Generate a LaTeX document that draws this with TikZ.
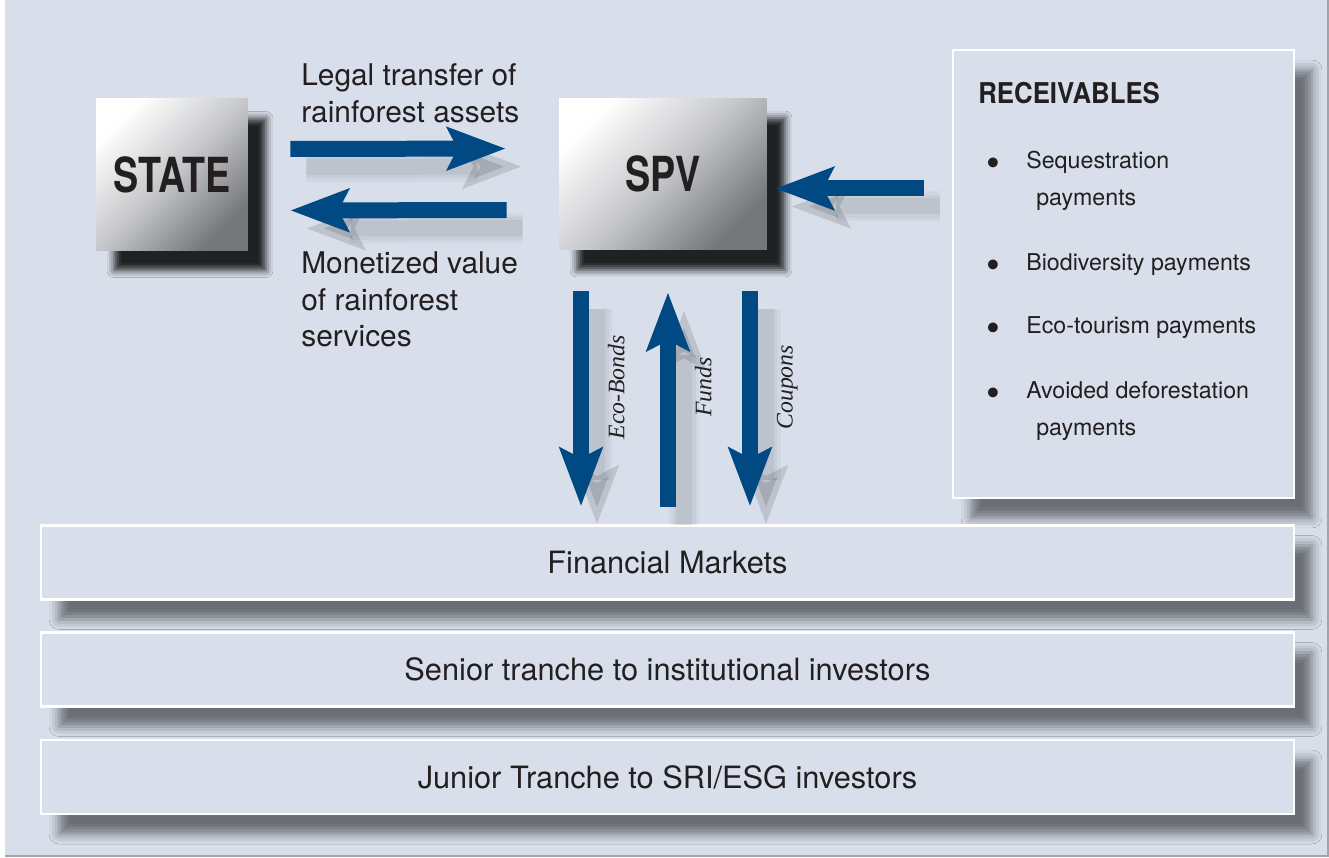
\documentclass[tikz,border=0pt]{standalone}
\usepackage{fontspec}
\setmainfont{TeX Gyre Heros}
\newfontfamily\narrowfont[FakeStretch=0.78]{TeX Gyre Heros}
\newfontfamily\headfont[FakeStretch=0.9]{TeX Gyre Heros}
\newfontfamily\flowfont{Liberation Serif}
\usetikzlibrary{arrows.meta,calc,shadows.blur}

\newcommand\bigdot{\raisebox{-4.5pt}{\scalebox{1.7}{\textbullet}}}

\begin{document}
\begin{tikzpicture}
	[x=0.02cm,y=-0.02cm,
	%Styles
	entity/.style={minimum width=#1,minimum height=3.04cm,inner sep=0pt,
		font=\narrowfont\bfseries\fontsize{27.5}{28}\selectfont,text=ink,
		top color=white,bottom color=boxdark,middle color=boxmid,shading angle=45,
		blur shadow={shadow xshift=0.36cm,shadow yshift=-0.4cm,shadow blur radius=0.14cm,shadow opacity=85}},
	panel/.style={draw=white,line width=0.05cm,fill=panelbg,inner sep=0pt,
		blur shadow={shadow xshift=0.36cm,shadow yshift=-0.4cm,shadow blur radius=0.2cm,shadow opacity=50}},
	tranche/.style={panel,minimum width=25.06cm,minimum height=1.48cm,
		font=\fontsize{17.5}{21}\selectfont,text=ink},
	flow/.style={draw=flowblue,line width=0.32cm,
		-{Stealth[length=1.16cm,width=0.84cm,inset=0.2cm]},
		preaction={draw=black,opacity=0.035,line width=0.6cm,transform canvas={shift={(16,18)}}},
		preaction={draw=black,opacity=0.04,line width=0.46cm,transform canvas={shift={(16,18)}}},
		preaction={draw=black,opacity=0.05,line width=0.32cm,transform canvas={shift={(16,18)}}}},
	flowtext/.style={rotate=90,anchor=north,inner sep=0.38cm,
		font=\flowfont\itshape\fontsize{13.5}{16}\selectfont,text=ink},
	note/.style={anchor=north west,align=left,inner sep=0pt,
		font=\fontsize{17}{21}\selectfont,text=ink},
	item/.style={anchor=north west,align=left,inner sep=0pt,
		font=\fontsize{13.2}{21}\selectfont,text=ink}
	]
	
	%Colors
	\definecolor{panelbg}{RGB}{216,223,235}
	\definecolor{flowblue}{RGB}{0,73,130}
	\definecolor{ink}{RGB}{35,31,32}
	\definecolor{boxmid}{RGB}{198,199,202}
	\definecolor{boxdark}{RGB}{116,118,122}
	\definecolor{edgegray}{RGB}{160,163,168}
	
	\useasboundingbox (0,0) rectangle (1329,858);
	\fill[panelbg] (5,0) rectangle (1328,856);
	\draw[edgegray,line width=0.04cm] (5,856) -- (1328,856) -- (1328,0);
	
	%The graphic
	\node[entity=3.04cm] (STATE) at (172,174.5) {STATE};
	\node[entity=4.16cm] (SPV) at (663,174) {SPV};
	\node[panel,minimum width=6.82cm,minimum height=8.96cm] (rec) at (1123.5,274) {};
	\node[tranche] (fin) at (667.5,562.5) {Financial Markets};
	\node[tranche] (sen) at (667.5,669.5) {Senior tranche to institutional investors};
	\node[tranche] (jun) at (667.5,777) {Junior Tranche to SRI/ESG investors};
	
	\node[note] at (301,63) {Legal transfer of\\rainforest assets};
	\node[note] at (301,251) {Monetized value\\of rainforest\\services};
	
	\node[anchor=base west,inner sep=0pt,text=ink,
		font=\headfont\bfseries\fontsize{16.3}{18}\selectfont] at (978,104) {RECEIVABLES};
	\node[item] at (986,151) {\makebox[0.8cm][l]{\bigdot}Sequestration\\\hspace*{1.0cm}payments};
	\node[item] at (986,253) {\makebox[0.8cm][l]{\bigdot}Biodiversity payments};
	\node[item] at (986,316) {\makebox[0.8cm][l]{\bigdot}Eco-tourism payments};
	\node[item] at (986,381) {\makebox[0.8cm][l]{\bigdot}Avoided deforestation\\\hspace*{1.0cm}payments};
	
	%Flows
	\coordinate (recin) at ([yshift=-0.29cm]SPV.east);
	\coordinate (bonds) at ([xshift=-1.64cm]SPV.south);
	\coordinate (funds) at ([xshift=0.1cm]SPV.south);
	\coordinate (coupons) at ([xshift=1.74cm]SPV.south);
	
	\draw[flow,shorten <=0.84cm,shorten >=1.06cm] ([yshift=0.51cm]STATE.east) -- ([yshift=0.51cm]SPV.west);
	\draw[flow,shorten <=1.04cm,shorten >=0.84cm] ([yshift=-0.72cm]SPV.west) -- ([yshift=-0.72cm]STATE.east);
	\draw[flow,shorten <=0.56cm,shorten >=0.16cm] (recin -| rec.west) -- (recin);
	\draw[flow,shorten <=0.82cm,shorten >=0.36cm] (bonds) -- node[flowtext] {Eco-Bonds} (bonds |- fin.north);
	\draw[flow,shorten <=0.34cm,shorten >=0.84cm] (funds |- fin.north) -- node[flowtext] {Funds} (funds);
	\draw[flow,shorten <=0.82cm,shorten >=0.36cm] (coupons) -- node[flowtext] {Coupons} (coupons |- fin.north);
\end{tikzpicture}
\end{document}
